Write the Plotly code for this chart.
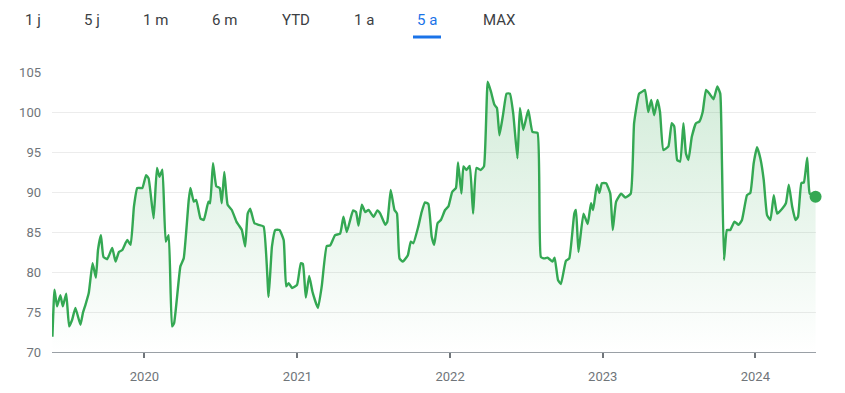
import plotly.graph_objects as go

dates = [
"2019-05-26","2019-05-31","2019-06-06","2019-06-14","2019-06-20","2019-06-28","2019-07-05","2019-07-12","2019-07-20","2019-08-01",
"2019-08-07","2019-08-13","2019-08-21","2019-08-30","2019-09-07","2019-09-12","2019-09-19","2019-09-25","2019-10-04","2019-10-16",
"2019-10-24","2019-11-01","2019-11-09","2019-11-21","2019-11-29","2019-12-07","2019-12-15","2019-12-27","2020-01-05","2020-01-11",
"2020-01-23","2020-01-31","2020-02-06","2020-02-13","2020-02-21","2020-02-28","2020-03-07","2020-03-12","2020-03-27","2020-04-04",
"2020-04-16","2020-04-20","2020-04-28","2020-05-04","2020-05-14","2020-05-22","2020-06-02","2020-06-06","2020-06-13","2020-06-21",
"2020-06-29","2020-07-04","2020-07-10","2020-07-18","2020-07-28","2020-08-08","2020-08-13","2020-08-21","2020-08-29","2020-09-04",
"2020-09-10","2020-09-20","2020-09-30","2020-10-12","2020-10-24","2020-11-01","2020-11-09","2020-11-19","2020-11-29","2020-12-05",
"2020-12-11","2020-12-19","2020-12-31","2021-01-09","2021-01-14","2021-01-21","2021-01-29","2021-02-06","2021-02-19","2021-02-28",
"2021-03-12","2021-03-20","2021-04-01","2021-04-13","2021-04-21","2021-04-29","2021-05-14","2021-05-21","2021-05-27","2021-06-04",
"2021-06-12","2021-06-20","2021-07-02","2021-07-11","2021-07-18","2021-07-30","2021-08-04","2021-08-12","2021-08-21","2021-08-27",
"2021-09-02","2021-09-10","2021-09-22","2021-09-29","2021-10-05","2021-10-17","2021-10-25","2021-11-02","2021-11-10","2021-11-18",
"2021-11-24","2021-12-02","2021-12-10","2021-12-20","2021-12-28","2022-01-06","2022-01-15","2022-01-20","2022-01-28","2022-02-02",
"2022-02-09","2022-02-17","2022-02-25","2022-03-05","2022-03-15","2022-03-23","2022-04-01","2022-04-09","2022-04-17","2022-04-23",
"2022-04-29","2022-05-08","2022-05-16","2022-05-24","2022-06-01","2022-06-11","2022-06-17","2022-06-25","2022-07-07","2022-07-17",
"2022-07-29","2022-08-06","2022-08-14","2022-08-22","2022-09-03","2022-09-08","2022-09-16","2022-09-23","2022-10-05","2022-10-13",
"2022-10-25","2022-10-29","2022-11-04","2022-11-16","2022-11-26","2022-12-04","2022-12-09","2022-12-18","2022-12-24","2022-12-30",
"2023-01-09","2023-01-19","2023-01-25","2023-02-02","2023-02-14","2023-02-24","2023-03-09","2023-03-17","2023-03-29","2023-04-04",
"2023-04-12","2023-04-20","2023-04-27","2023-05-04","2023-05-12","2023-05-18","2023-05-26","2023-06-07","2023-06-15","2023-06-21",
"2023-06-28","2023-07-05","2023-07-13","2023-07-19","2023-07-25","2023-08-02","2023-08-12","2023-08-20","2023-08-28","2023-09-05",
"2023-09-13","2023-09-23","2023-10-02","2023-10-09","2023-10-13","2023-10-18","2023-10-25","2023-11-02","2023-11-12","2023-11-22",
"2023-11-30","2023-12-12","2023-12-20","2023-12-28","2024-01-05","2024-01-13","2024-01-21","2024-01-29","2024-02-06","2024-02-14",
"2024-02-22","2024-03-05","2024-03-14","2024-03-21","2024-03-29","2024-04-06","2024-04-12","2024-04-20","2024-04-26","2024-05-04",
"2024-05-10","2024-05-24",
]

prices = [
71.9,77.8,75.7,77.1,75.7,77.3,73.2,74.0,75.5,73.4,
74.9,75.9,77.4,81.1,79.3,82.75,84.6,81.9,81.6,83.0,
81.3,82.5,82.75,84.0,83.4,88.2,90.5,90.5,92.1,91.7,
86.7,93.0,91.9,92.8,83.8,84.6,73.2,73.6,80.7,81.7,
89.0,90.5,88.8,89.0,86.7,86.5,88.8,88.6,93.6,90.7,
90.5,88.6,92.5,88.4,87.75,86.3,85.9,85.25,83.2,87.3,
87.9,86.1,85.9,85.7,76.9,83.2,85.25,85.25,84.0,78.2,
78.6,78.0,78.4,81.1,81.0,76.8,79.5,77.5,75.5,78.2,
83.25,83.3,84.6,84.8,86.9,85.0,87.7,87.5,85.8,88.4,
87.5,87.75,86.9,87.7,87.3,85.9,86.3,90.25,87.75,87.3,
81.7,81.3,82.1,83.8,83.6,85.7,87.5,88.7,88.5,84.4,
83.4,86.1,86.5,87.75,88.2,90.0,90.5,93.7,89.8,93.2,
92.75,93.25,87.3,93.0,92.75,93.2,103.8,102.5,100.9,100.5,
97.1,99.8,102.3,102.3,99.8,94.2,100.5,97.75,100.25,97.5,
97.4,81.9,81.7,81.8,81.3,81.8,79.0,78.5,81.4,81.7,
87.3,87.75,82.5,87.3,86.0,88.6,87.75,90.9,89.9,91.1,
91.1,89.8,85.25,88.8,89.8,89.3,89.8,98.6,102.3,102.5,
102.75,100.0,101.5,99.6,101.5,100.0,95.25,95.7,98.6,98.2,
94.0,93.8,98.6,94.8,94.0,96.9,98.6,98.8,100.0,102.75,
102.3,101.6,103.2,102.3,94.0,81.5,85.25,85.25,86.3,85.9,
86.5,89.6,89.9,93.6,95.6,94.2,91.5,87.1,86.5,89.6,
87.3,87.9,88.6,90.9,88.2,86.5,86.9,91.1,91.2,94.3,
89.8,89.4,
]

y_ticks = [70, 75, 80, 85, 90, 95, 100, 105]
x_ticks = ["2020-01-01", "2021-01-01", "2022-01-01", "2023-01-01", "2024-01-01"]
x_tick_labels = ["2020", "2021", "2022", "2023", "2024"]
tabs = ["1 j", "5 j", "1 m", "6 m", "YTD", "1 a", "5 a", "MAX"]
active_tab = "5 a"

GREEN = "#34a853"
W, H = 845, 393
ML, MR, MT, MB = 52, 29, 72, 41
PW, PH = W - ML - MR, H - MT - MB

def px_x(px):
    return (px - ML) / PW

def px_y(py):
    return (H - MB - py) / PH

fig = go.Figure()
fig.add_trace(go.Scatter(
    x=dates, y=prices, mode="lines",
    line=dict(color=GREEN, width=2.4, shape="spline", smoothing=0.4),
    fill="tozeroy",
    fillgradient=dict(type="vertical",
                      colorscale=[[0, "rgba(52,168,83,0)"], [1, "rgba(52,168,83,0.22)"]],
                      start=70, stop=104),
    hoverinfo="skip", showlegend=False,
))
fig.add_trace(go.Scatter(
    x=[dates[-1]], y=[prices[-1]], mode="markers",
    marker=dict(color=GREEN, size=12),
    cliponaxis=False, hoverinfo="skip", showlegend=False,
))

tab_centers = [33, 92, 155, 224, 296, 364, 427, 500]
annotations = []
for name, cx in zip(tabs, tab_centers):
    annotations.append(dict(
        text=name, x=px_x(cx), y=px_y(20), xref="paper", yref="paper",
        showarrow=False, xanchor="center", yanchor="middle",
        font=dict(family="Roboto, Arial, sans-serif", size=15,
                  color="#1a73e8" if name == active_tab else "#3c4043"),
    ))

shapes = [dict(type="line", xref="paper", yref="paper",
               x0=px_x(413), x1=px_x(441), y0=px_y(37), y1=px_y(37),
               line=dict(color="#1a73e8", width=3))]

fig.update_layout(
    width=W, height=H,
    margin=dict(l=ML, r=MR, t=MT, b=MB, autoexpand=False),
    paper_bgcolor="white", plot_bgcolor="white",
    annotations=annotations, shapes=shapes,
    xaxis=dict(
        range=["2019-05-25", "2024-05-25"], type="date",
        tickvals=x_ticks, ticktext=x_tick_labels,
        showgrid=False, zeroline=False, automargin=False,
        showline=True, linecolor="#9aa0a6", linewidth=1,
        ticks="outside", ticklen=5, tickwidth=1.5, tickcolor="#70757a",
        ticklabelstandoff=7,
        tickfont=dict(family="Roboto, Arial, sans-serif", size=13, color="#70757a"),
    ),
    yaxis=dict(
        range=[70, 105], tickvals=y_ticks, automargin=False,
        showgrid=True, gridcolor="#ececec", gridwidth=1,
        zeroline=False, showline=False, ticks="",
        ticklabelstandoff=10,
        tickfont=dict(family="Roboto, Arial, sans-serif", size=13, color="#70757a"),
    ),
)

fig.write_html("out.html", config={"displayModeBar": False},
               post_script="document.body.style.margin='0px';document.body.style.overflow='hidden';")
